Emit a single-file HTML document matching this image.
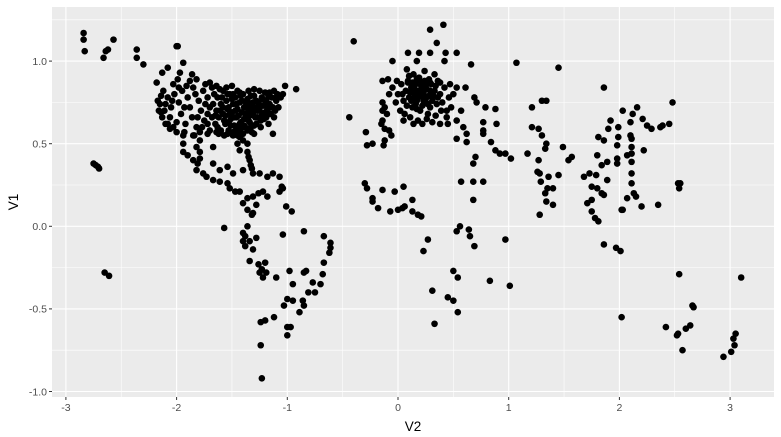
<!DOCTYPE html>
<html><head><meta charset="utf-8"><style>
html,body{margin:0;padding:0;background:#fff;}
svg{display:block;font-family:"Liberation Sans",sans-serif;}
</style></head><body>
<svg id="chart" width="781" height="437" viewBox="0 0 781 437"></svg>
<script>
const xTicks=[-3,-2,-1,0,1,2,3];
const yTicks=[-1.0,-0.5,0.0,0.5,1.0];
const yTickLabels=["-1.0","-0.5","0.0","0.5","1.0"];
const xMinor=[-2.5,-1.5,-0.5,0.5,1.5,2.5];
const yMinor=[-0.75,-0.25,0.25,0.75,1.25];
const xs=[];const ys=[];
function addPts(a){for(let i=0;i<a.length;i+=2){xs.push(a[i]);ys.push(a[i+1]);}}
// Alaska, Hawaii, islands
addPts([-2.84,1.17,-2.84,1.13,-2.83,1.06,-2.66,1.02,-2.64,1.06,-2.62,1.07,-2.57,1.13,-2.36,1.07,-2.36,1.02,-2.30,0.98,-2.0,1.09,
-2.75,0.38,-2.73,0.37,-2.71,0.36,-2.70,0.35,-2.65,-0.28,-2.61,-0.30]);
// North America edges
addPts([-1.99,1.09,-1.94,0.99,-2.13,0.93,-2.08,0.96,-1.99,0.89,-1.97,0.93,-1.86,0.92,-1.82,0.89,-1.70,0.87,-1.64,0.85,
-1.02,0.85,-0.92,0.83,-1.13,0.56,-1.43,0.81,-1.25,0.82,-1.16,0.81,-1.09,0.79,-1.04,0.80,
-2.18,0.87,-2.17,0.76,-2.16,0.70,-2.13,0.66,-2.10,0.62,-2.06,0.59,-2.00,0.57,-1.94,0.55,
-1.85,0.55,-1.79,0.57,-1.72,0.56,-1.64,0.57,-1.54,0.56,-1.49,0.57,-1.43,0.57,
-1.45,0.50,-1.43,0.46,-1.36,0.45,-1.35,0.42,-1.34,0.40,-1.33,0.37,-1.32,0.35,
-1.94,0.50,-1.94,0.45,-1.90,0.43,-1.85,0.40,-1.81,0.38,-1.82,0.34,-1.76,0.32,-1.73,0.30,-1.67,0.28,-1.61,0.27,-1.54,0.26,-1.52,0.23,-1.47,0.21,-1.43,0.21,-1.36,0.17,-1.31,0.18,-1.26,0.20,-1.22,0.21,-1.18,0.18,
-1.79,0.45,-1.67,0.48,-1.54,0.36,-1.49,0.32,-1.40,0.34,-1.31,0.32,-1.25,0.32,-1.18,0.30,-1.13,0.32,-1.07,0.30,-1.05,0.24,-1.07,0.21,-1.04,0.23,
-1.43,0.54,-1.40,0.52,-1.36,0.50,-1.82,0.48,-1.79,0.41,-1.67,0.38,-1.61,0.34]);
// NA interior west
addPts([-2.12,0.82,-2.08,0.78,-2.05,0.72,-2.02,0.80,-1.98,0.75,-1.96,0.68,-1.95,0.82,-1.92,0.62,-1.90,0.78,-1.88,0.72,-1.86,0.66,-1.85,0.84,-1.82,0.60,-1.80,0.76,-1.78,0.70,-1.76,0.82,-1.75,0.64,-1.72,0.78,-1.70,0.58,-1.70,0.72,-1.68,0.84,-2.10,0.74,-2.06,0.66,-2.00,0.63,-1.93,0.57,-2.14,0.79,-2.03,0.86,-1.88,0.88,-1.84,0.55,-1.77,0.60,
-2.15,0.74,-2.14,0.69,-2.11,0.70,-2.08,0.62,-2.03,0.60,-2.04,0.76,-1.98,0.84,-1.93,0.72,-1.91,0.85,-1.83,0.80,-1.81,0.66,-1.74,0.86,-1.72,0.62,-1.79,0.52]);
// NA east dense
addPts([-1.65,0.62,-1.64,0.70,-1.63,0.78,-1.62,0.66,-1.60,0.74,-1.60,0.58,-1.58,0.82,-1.58,0.68,-1.56,0.62,-1.55,0.76,-1.54,0.71,-1.53,0.58,-1.52,0.80,-1.51,0.65,-1.50,0.69,-1.49,0.74,-1.48,0.61,-1.47,0.78,-1.46,0.66,-1.45,0.71,-1.44,0.58,-1.43,0.75,-1.42,0.63,-1.41,0.69,-1.40,0.80,-1.39,0.72,-1.38,0.60,-1.37,0.66,-1.36,0.77,-1.35,0.70,-1.34,0.63,-1.33,0.74,-1.32,0.57,-1.31,0.68,-1.30,0.79,-1.29,0.72,-1.28,0.62,-1.27,0.66,-1.26,0.75,-1.25,0.70,-1.24,0.60,-1.23,0.78,-1.22,0.73,-1.21,0.65,-1.20,0.69,-1.19,0.76,-1.18,0.71,-1.17,0.62,-1.16,0.74,-1.15,0.68,-1.14,0.78,-1.13,0.72,-1.12,0.66,-1.10,0.76,-1.08,0.72,-1.06,0.78,-1.57,0.64,-1.53,0.72,-1.47,0.70,-1.44,0.67,-1.41,0.76,-1.38,0.68,-1.35,0.64,-1.32,0.71,-1.29,0.66,-1.26,0.71,-1.23,0.67,-1.20,0.74,-1.49,0.55,-1.45,0.55,-1.40,0.56,-1.36,0.58,-1.62,0.56,-1.57,0.55,-1.66,0.80,-1.61,0.83,-1.55,0.84,-1.50,0.85,-1.45,0.82,-1.35,0.82,-1.30,0.83,-1.20,0.81,-1.12,0.82,-1.68,0.66,-1.67,0.74,-1.72,0.68,-1.74,0.74,
-1.63,0.60,-1.61,0.70,-1.59,0.78,-1.56,0.67,-1.54,0.80,-1.51,0.61,-1.50,0.77,-1.48,0.66,-1.46,0.74,-1.43,0.62,-1.42,0.79,-1.39,0.65,-1.37,0.74,-1.34,0.67,-1.33,0.79,-1.30,0.61,-1.28,0.76,-1.27,0.70,-1.24,0.64,-1.22,0.77,-1.19,0.66,-1.17,0.79,-1.15,0.72,-1.11,0.70,-1.09,0.80,-1.46,0.59,-1.42,0.59,-1.33,0.60,-1.30,0.56,-1.52,0.68,-1.39,0.61,-1.36,0.72,-1.24,0.73,-1.31,0.75,-1.65,0.67,-1.58,0.72,-1.53,0.63,-1.49,0.80]);
// South America
addPts([-1.57,-0.01,-1.38,-0.06,-1.40,-0.04,-1.40,-0.09,-1.38,-0.12,-1.36,0.0,-1.34,-0.09,-1.31,-0.14,-1.28,-0.07,-1.34,-0.21,-1.26,-0.23,-1.25,-0.28,-1.20,-0.22,-1.19,-0.28,-1.22,-0.31,-1.23,-0.26,-1.10,-0.31,-1.04,-0.05,-1.01,0.12,-0.96,0.09,-0.85,-0.03,-0.67,-0.06,-0.61,-0.10,-0.61,-0.13,-0.62,-0.16,-0.67,-0.22,-0.68,-0.29,-0.70,-0.35,-0.77,-0.34,-0.75,-0.40,-0.81,-0.40,-0.85,-0.48,-0.86,-0.45,-0.85,-0.28,-0.83,-0.27,-0.98,-0.27,-0.95,-0.35,-1.00,-0.44,-0.95,-0.45,-0.89,-0.52,-1.03,-0.48,-1.12,-0.55,-1.00,-0.61,-0.97,-0.61,-1.00,-0.66,-1.20,-0.57,-1.24,-0.58,-1.24,-0.72,-1.23,-0.92,-1.40,0.14,-1.36,0.10,-1.32,0.07,-1.31,0.08,-1.28,0.13]);
// Europe / Africa / Asia
addPts([-0.40,1.12,-0.44,0.66,0.29,1.19,0.41,1.22,0.35,1.11,1.07,0.99,1.45,0.96,1.86,0.84,2.48,0.75,
0.09,1.05,0.19,1.05,0.29,1.05,0.43,1.05,0.53,1.05,-0.05,1.0,0.17,1.0,0.42,1.0,0.66,0.98,
-0.14,0.88,-0.09,0.89,-0.01,0.88,0.09,0.87,0.20,0.88,0.29,0.87,0.38,0.87,0.47,0.86,0.53,0.84,0.61,0.84,
-0.14,0.75,-0.14,0.70,-0.14,0.64,-0.15,0.62,-0.12,0.59,-0.08,0.58,-0.06,0.55,-0.12,0.52,-0.13,0.49,
-0.29,0.57,-0.28,0.49,-0.23,0.50,
0.05,0.64,0.18,0.64,0.26,0.65,0.44,0.66,0.53,0.64,0.59,0.60,0.62,0.56,0.62,0.51,0.53,0.53,0.57,0.70,0.69,0.78,0.71,0.75,0.79,0.72,0.88,0.71,
0.77,0.63,0.77,0.58,0.77,0.56,0.84,0.51,0.89,0.62,0.88,0.46,0.92,0.44,0.97,0.44,1.02,0.41,0.70,0.42,0.68,0.38,0.57,0.27,0.68,0.27,0.77,0.27,0.68,0.16,
-0.30,0.26,-0.28,0.23,-0.23,0.17,-0.23,0.15,-0.18,0.11,-0.14,0.22,-0.07,0.09,-0.03,0.21,0.0,0.10,0.04,0.11,0.05,0.24,0.06,0.12,0.13,0.16,0.13,0.09,0.18,0.07,0.21,0.06,
0.56,0.0,0.64,-0.02,0.23,-0.15,0.27,-0.08,0.53,-0.03,0.65,-0.06,0.69,-0.12,0.50,-0.27,0.54,-0.31,0.31,-0.39,0.45,-0.43,0.50,-0.45,0.54,-0.52,0.33,-0.59,0.83,-0.33,0.97,-0.08,1.01,-0.36,
1.21,0.72,1.30,0.76,1.34,0.76,1.21,0.60,1.27,0.59,1.30,0.55,1.34,0.50,1.33,0.47,1.49,0.48,1.17,0.44,1.27,0.40,1.26,0.33,1.28,0.32,1.36,0.30,1.45,0.31,1.29,0.27,1.35,0.23,1.40,0.23,1.33,0.20,1.34,0.15,1.40,0.13,1.28,0.07,1.54,0.40,1.57,0.42,
1.73,0.32,1.68,0.30,1.79,0.31,1.80,0.43,1.81,0.54,1.86,0.52,1.84,0.37,1.89,0.39,1.89,0.28,1.75,0.24,1.80,0.23,1.84,0.20,1.86,0.19,1.71,0.14,1.75,0.16,1.75,0.09,1.78,0.05,1.81,0.03,
1.90,0.59,1.92,0.64,1.99,0.60,1.99,0.54,1.98,0.49,1.98,0.41,1.98,0.38,2.03,0.70,2.07,0.43,2.10,0.63,2.10,0.55,2.11,0.53,2.12,0.68,2.11,0.48,2.11,0.44,2.11,0.39,2.11,0.32,2.11,0.26,2.13,0.20,2.15,0.18,2.07,0.17,2.16,0.72,2.21,0.65,2.25,0.61,2.29,0.59,2.22,0.46,2.03,0.10,2.20,0.12,2.35,0.13,2.37,0.60,2.39,0.61,2.45,0.62,2.53,0.26,2.55,0.26,2.54,0.23,
1.86,-0.11,1.97,-0.13,2.01,-0.15,2.02,0.10,2.54,-0.29,3.10,-0.31,2.02,-0.55,2.42,-0.61,2.52,-0.66,2.53,-0.65,2.57,-0.75,2.60,-0.62,2.64,-0.60,2.66,-0.48,2.67,-0.49,2.94,-0.79,3.01,-0.76,3.04,-0.72,3.03,-0.68,3.05,-0.65]);
// Europe dense
addPts([0.00,0.80,0.03,0.86,0.05,0.76,0.07,0.82,0.09,0.88,0.10,0.78,0.12,0.84,0.13,0.72,0.15,0.80,0.16,0.86,0.17,0.76,0.18,0.82,0.19,0.90,0.20,0.79,0.21,0.85,0.22,0.73,0.23,0.81,0.24,0.88,0.25,0.77,0.26,0.83,0.28,0.79,0.29,0.72,0.30,0.86,0.31,0.76,0.33,0.82,0.35,0.74,0.36,0.88,0.38,0.80,0.40,0.75,0.42,0.84,0.44,0.70,0.46,0.78,0.48,0.72,0.50,0.80,-0.08,0.80,-0.05,0.84,-0.02,0.75,0.02,0.70,0.06,0.68,0.11,0.66,0.14,0.92,0.24,0.94,0.33,0.92,0.08,0.95,0.16,0.74,0.20,0.70,0.27,0.68,0.34,0.67,0.39,0.70,-0.10,0.68,-0.12,0.72,0.14,0.62,0.22,0.62,0.31,0.63,0.38,0.62,0.45,0.62,0.18,0.78,0.21,0.81,0.14,0.77,
0.11,0.81,0.13,0.87,0.15,0.83,0.17,0.89,0.19,0.79,0.22,0.84,0.24,0.79,0.26,0.86,0.27,0.74,0.29,0.82,0.32,0.79,0.34,0.85,0.36,0.78,0.12,0.76,0.08,0.73,0.23,0.76,0.17,0.71,0.04,0.80,0.28,0.89,0.10,0.91]);

const P={l:52,r:774,t:7,b:397};
const X=v=>398+v*110.7;
const Y=v=>226.3-v*165.2;
const NS='http://www.w3.org/2000/svg';
const svg=document.getElementById('chart');
function mk(tag,attrs,parent){const e=document.createElementNS(NS,tag);for(const k in attrs)e.setAttribute(k,attrs[k]);(parent||svg).appendChild(e);return e;}
const bg=mk('rect',{x:P.l,y:P.t,width:P.r-P.l,height:P.b-P.t,fill:'#EBEBEB'});


const grid=mk('g',{});


xMinor.forEach(v=>mk('line',{x1:X(v),x2:X(v),y1:P.t,y2:P.b,stroke:'#fff','stroke-width':0.55},grid));
yMinor.forEach(v=>mk('line',{x1:P.l,x2:P.r,y1:Y(v),y2:Y(v),stroke:'#fff','stroke-width':0.55},grid));
xTicks.forEach(v=>mk('line',{x1:X(v),x2:X(v),y1:P.t,y2:P.b,stroke:'#fff','stroke-width':1.1},grid));
yTicks.forEach(v=>mk('line',{x1:P.l,x2:P.r,y1:Y(v),y2:Y(v),stroke:'#fff','stroke-width':1.1},grid));
const pts=mk('g',{});


for(let i=0;i<xs.length;i++){
  const c=mk('circle',{cx:X(xs[i]),cy:Y(ys[i]),r:3.3,fill:'#000'},pts);
  
  
}
const xa=mk('g',{});


xTicks.forEach(v=>{
  mk('line',{x1:X(v),x2:X(v),y1:P.b,y2:P.b+3,stroke:'#333','stroke-width':1},xa);
  const t=mk('text',{x:X(v),y:P.b+14,'text-anchor':'middle','font-size':10.5,fill:'#4D4D4D'},xa);
  t.textContent=String(v);
  
  
});
const ya=mk('g',{});


yTicks.forEach((v,i)=>{
  mk('line',{x1:P.l-3,x2:P.l,y1:Y(v),y2:Y(v),stroke:'#333','stroke-width':1},ya);
  const t=mk('text',{x:P.l-5,y:Y(v)+3.8,'text-anchor':'end','font-size':10.5,fill:'#4D4D4D'},ya);
  t.textContent=yTickLabels[i];
  
  
});
const xt=mk('text',{x:(P.l+P.r)/2,y:431,'text-anchor':'middle','font-size':13.5,fill:'#000'});
xt.textContent='V2';


const yt=mk('text',{x:0,y:0,'text-anchor':'middle','font-size':13.5,fill:'#000',transform:'translate(18,'+((P.t+P.b)/2)+') rotate(-90)'});
yt.textContent='V1';


</script>
</body></html>
